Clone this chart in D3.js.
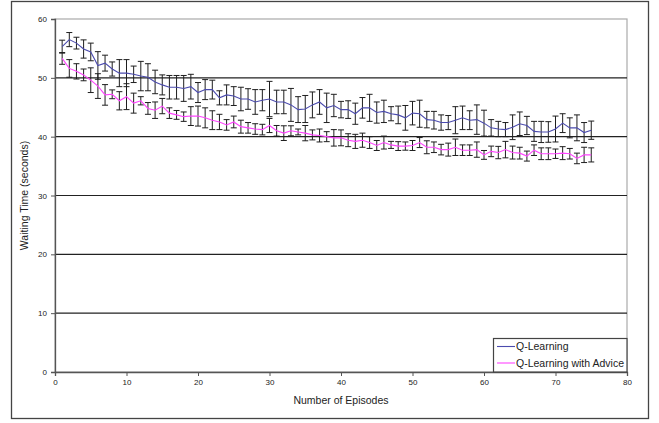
<!DOCTYPE html>
<html>
<head>
<meta charset="utf-8">
<script src="https://cdn.jsdelivr.net/npm/d3@7"></script>
<style>
  body { margin: 0; background: #fff; }
  text { font-family: "Liberation Sans", Arial, sans-serif; fill: #222; }
</style>
</head>
<body>
<div id="chart"></div>
<script>
// episode averages
const qLearning = [
  55.3, 56.5, 55.9, 54.9, 54.4, 52.1, 52.5, 51.5, 50.8, 50.8,
  50.6, 50.3, 50.1, 49.3, 48.8, 48.4, 48.4, 48.2, 48.5, 47.5,
  48.0, 48.0, 46.6, 47.1, 46.9, 46.4, 46.4, 45.9, 46.2, 46.4,
  45.9, 45.9, 45.4, 44.6, 44.7, 45.4, 45.9, 44.9, 45.3, 44.6,
  44.6, 43.9, 44.9, 44.9, 44.1, 44.3, 43.9, 43.7, 43.2, 44.0,
  43.9, 42.9, 42.8, 42.4, 42.4, 42.8, 43.2, 42.8, 42.9, 42.3,
  41.5, 41.3, 41.2, 41.6, 42.2, 41.9, 40.9, 40.8, 40.8, 41.3,
  42.3, 41.5, 41.5, 40.7, 41.1
];
const qLearningErr = [
  1.1, 1.2, 1.0, 1.55, 1.5, 2.35, 1.35, 1.2, 2.3, 2.3,
  1.4, 2.5, 2.3, 2.0, 1.7, 2.0, 2.0, 2.2, 2.1, 1.7,
  1.7, 1.6, 1.2, 1.7, 1.6, 2.0, 1.75, 2.1, 1.8, 3.0,
  2.0, 2.0, 2.8, 2.2, 2.3, 2.2, 2.1, 2.5, 1.9, 1.4,
  1.5, 1.8, 1.75, 2.3, 1.8, 1.9, 1.2, 1.5, 2.1, 2.0,
  2.3, 1.4, 1.5, 1.3, 1.2, 2.3, 2.0, 1.6, 2.5, 2.2,
  1.4, 1.3, 1.2, 2.1, 2.0, 1.55, 1.7, 1.8, 1.75, 2.2,
  1.6, 1.7, 2.2, 1.7, 1.55
];
const withAdvice = [
  53.3, 51.6, 51.1, 50.5, 49.6, 48.6, 47.1, 47.2, 46.1, 46.8,
  45.7, 46.1, 44.8, 44.5, 45.2, 44.0, 43.7, 43.4, 43.5, 43.5,
  43.2, 42.8, 42.5, 42.0, 42.5, 41.7, 41.5, 41.3, 41.2, 41.9,
  41.0, 40.6, 41.0, 40.8, 40.6, 40.3, 40.2, 40.0, 39.8, 39.8,
  39.4, 39.2, 39.4, 39.0, 38.5, 39.0, 38.6, 38.4, 38.4, 38.5,
  39.0, 38.2, 38.2, 37.8, 37.8, 38.2, 37.7, 37.7, 37.8, 36.9,
  37.5, 37.3, 37.8, 37.3, 37.2, 36.7, 37.7, 37.1, 37.1, 37.1,
  37.2, 37.1, 36.3, 36.9, 36.9
];
const withAdviceErr = [
  1.0, 1.5, 1.3, 1.0, 2.1, 2.1, 1.75, 0.75, 1.55, 2.2,
  1.7, 0.7, 1.0, 1.4, 1.3, 0.9, 0.75, 0.8, 1.6, 1.7,
  1.7, 1.6, 1.3, 0.9, 1.0, 1.1, 0.9, 0.9, 0.9, 1.2,
  0.9, 1.25, 0.85, 0.5, 1.3, 0.85, 1.1, 0.85, 1.4, 1.35,
  1.1, 1.2, 1.2, 1.0, 0.85, 1.1, 0.6, 0.75, 0.7, 0.85,
  0.85, 1.1, 0.9, 0.9, 1.1, 1.4, 0.9, 0.9, 1.3, 0.75,
  0.9, 1.05, 1.4, 1.1, 1.0, 0.85, 0.9, 1.0, 1.0, 0.8,
  1.1, 0.9, 0.9, 1.3, 1.2
];
const yTicks = [0, 10, 20, 30, 40, 50, 60];
const xTicks = [0, 10, 20, 30, 40, 50, 60, 70, 80];
const seriesNames = ['Q-Learning', 'Q-Learning with Advice'];
const seriesColors = ['#4b4bae', '#ff44ff'];

const width = 659, height = 423;
const margin = {top: 19, right: 32, bottom: 51, left: 55};

const svg = d3.select('#chart')
  .append('svg')
  .attr('width', width)
  .attr('height', height);

// outer frame
svg.append('rect')
  .attr('x', 11.5).attr('y', 1.5)
  .attr('width', 637).attr('height', 417)
  .attr('fill', 'none')
  .attr('stroke', '#444')
  .attr('stroke-width', 1.3);

const x = d3.scaleLinear().domain([0, 80]).range([margin.left, width - margin.right]);
const y = d3.scaleLinear().domain([0, 60]).range([height - margin.bottom, margin.top]);

// plot area border (light)
svg.append('rect')
  .attr('x', x(0)).attr('y', y(60))
  .attr('width', x(80) - x(0)).attr('height', y(0) - y(60))
  .attr('fill', '#fff')
  .attr('stroke', '#aaa')
  .attr('stroke-width', 1.2);

// gridlines
svg.append('g')
  .selectAll('line')
  .data(yTicks.filter(d => d > 0 && d < 60))
  .enter()
  .append('line')
  .attr('x1', x(0)).attr('x2', x(80))
  .attr('y1', d => y(d)).attr('y2', d => y(d))
  .attr('stroke', '#222')
  .attr('stroke-width', 1.1);

// axes
const yAxis = svg.append('g')
  .attr('transform', 'translate(' + x(0) + ',0)')
  .call(d3.axisLeft(y).tickValues(yTicks).tickSize(4).tickPadding(4));
const xAxis = svg.append('g')
  .attr('transform', 'translate(0,' + y(0) + ')')
  .call(d3.axisBottom(x).tickValues(xTicks).tickSize(4).tickPadding(3));

[yAxis, xAxis].forEach(a => {
  a.select('.domain').attr('stroke', '#555').attr('stroke-width', 1.3);
  a.selectAll('.tick line').attr('stroke', '#555');
  a.selectAll('.tick text')
    .style('font-size', '8px')
    .style('font-family', '"Liberation Sans", Arial, sans-serif')
    .attr('fill', '#222');
});

// axis titles
svg.append('text')
  .attr('transform', 'translate(28,' + ((y(0) + y(60)) / 2) + ')rotate(-90)')
  .attr('text-anchor', 'middle')
  .style('font-size', '10.5px')
  .text('Waiting Time (seconds)');

svg.append('text')
  .attr('x', (x(0) + x(80)) / 2)
  .attr('y', 404)
  .attr('text-anchor', 'middle')
  .style('font-size', '10.5px')
  .text('Number of Episodes');

const series = [
  {name: seriesNames[0], color: seriesColors[0], values: qLearning, err: qLearningErr},
  {name: seriesNames[1], color: seriesColors[1], values: withAdvice, err: withAdviceErr}
];

const line = d3.line()
  .x((d, i) => x(i + 1))
  .y(d => y(d));

series.forEach(s => {
  const bars = svg.append('g').attr('stroke', '#1e1e1e').attr('stroke-width', 1);
  const pts = s.values.map((v, i) => ({ep: i + 1, v: v, e: s.err[i]}));

  bars.selectAll('line.bar')
    .data(pts)
    .enter()
    .append('line')
    .attr('x1', d => x(d.ep)).attr('x2', d => x(d.ep))
    .attr('y1', d => y(d.v + d.e)).attr('y2', d => y(d.v - d.e));

  bars.selectAll('line.capTop')
    .data(pts)
    .enter()
    .append('line')
    .attr('x1', d => x(d.ep) - 3).attr('x2', d => x(d.ep) + 3)
    .attr('y1', d => y(d.v + d.e)).attr('y2', d => y(d.v + d.e));

  bars.selectAll('line.capBottom')
    .data(pts)
    .enter()
    .append('line')
    .attr('x1', d => x(d.ep) - 3).attr('x2', d => x(d.ep) + 3)
    .attr('y1', d => y(d.v - d.e)).attr('y2', d => y(d.v - d.e));
});

series.forEach(s => {
  svg.append('path')
    .datum(s.values)
    .attr('d', line)
    .attr('fill', 'none')
    .attr('stroke', s.color)
    .attr('stroke-width', 1.1);
});

// legend
const legend = svg.append('g');
legend.append('rect')
  .attr('x', 493.5).attr('y', 338.5)
  .attr('width', x(80) - 493.5).attr('height', y(0) - 338.5)
  .attr('fill', '#fff')
  .attr('stroke', '#444')
  .attr('stroke-width', 1.2);

series.forEach((s, i) => {
  const ly = 346.5 + i * 16.5;
  legend.append('line')
    .attr('x1', 497).attr('x2', 515)
    .attr('y1', ly).attr('y2', ly)
    .attr('stroke', s.color)
    .attr('stroke-width', 1.1);
  legend.append('text')
    .attr('x', 516)
    .attr('y', ly + 3.7)
    .style('font-size', '10.5px')
    .text(s.name);
});
</script>
</body>
</html>
